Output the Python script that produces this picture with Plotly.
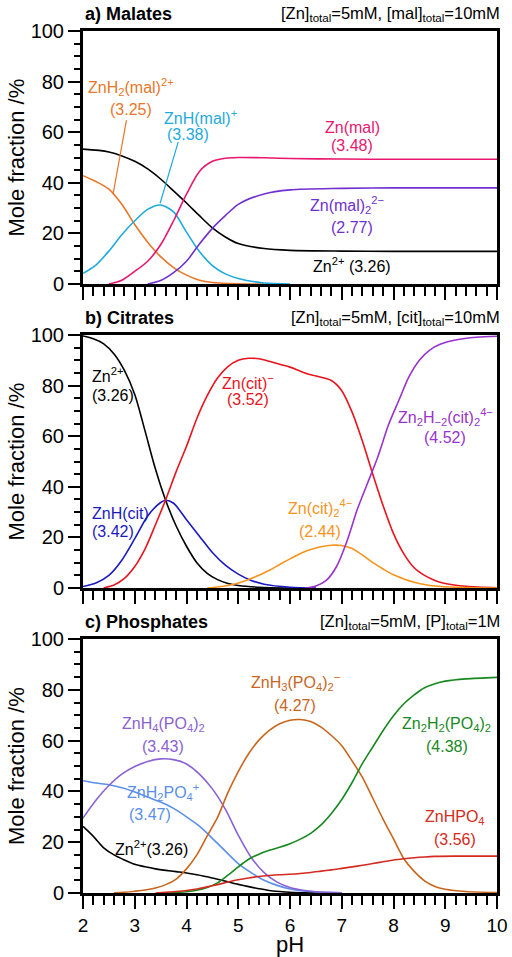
import plotly.graph_objects as go

# ---------------- Panel a) Malates ----------------
a_zn_ph = [2, 2.5, 3, 3.25, 3.5, 3.75, 4, 4.25, 4.5, 4.75, 5, 5.5, 6, 7, 8, 9, 10]
a_zn = [53.3, 52.2, 48.5, 45.5, 41.5, 36.8, 32, 27, 22.2, 18.6, 16, 14, 13.3, 13, 12.9, 12.9, 12.9]
a_znh2_ph = [2, 2.25, 2.5, 2.75, 3, 3.25, 3.5, 3.75, 4, 4.25, 4.5, 5, 5.5]
a_znh2 = [42.8, 40.5, 37.5, 31.5, 23.5, 16.5, 10.8, 6.5, 3.5, 1.5, 0.6, 0.1, 0]
a_znh_ph = [2, 2.25, 2.5, 2.75, 3, 3.25, 3.5, 3.75, 4, 4.25, 4.5, 4.75, 5, 5.5, 6]
a_znh = [4.2, 7.5, 13, 19.5, 25, 29.5, 31.2, 28.5, 20.5, 12.8, 7.3, 4, 2.2, 0.4, 0]
a_znmal_ph = [2.5, 2.75, 3, 3.25, 3.5, 3.75, 4, 4.25, 4.5, 4.75, 5, 5.5, 6, 7, 8, 10]
a_znmal = [0, 1.5, 5, 9, 15.5, 25, 35.5, 44.5, 48.5, 49.7, 50, 49.9, 49.6, 49.4, 49.3, 49.3]
a_znmal2_ph = [3.25, 3.5, 3.75, 4, 4.25, 4.5, 4.75, 5, 5.5, 6, 7, 8, 10]
a_znmal2 = [0, 1.4, 4.5, 9, 15.8, 22, 27, 31.5, 35.6, 37.2, 37.8, 38, 38]

# ---------------- Panel b) Citrates ----------------
b_zn_ph = [2, 2.2, 2.4, 2.6, 2.8, 3.0, 3.2, 3.4, 3.6, 3.8, 4.0, 4.2, 4.4, 4.6, 4.8, 5.0, 5.4, 6.0]
b_zn = [99.6, 98.5, 96.5, 92.5, 86, 76.5, 62, 47, 34.5, 24.5, 16.5, 10, 5.8, 3.3, 1.8, 1.0, 0.3, 0]
b_znh_ph = [2, 2.25, 2.5, 2.75, 3, 3.25, 3.5, 3.6, 3.75, 4, 4.25, 4.5, 4.75, 5, 5.25, 5.5, 6, 6.5]
b_znh = [0.6, 2, 5, 11, 19.5, 28.5, 33.8, 34.7, 33.5, 27, 20.5, 14, 9, 5.5, 3, 1.5, 0.3, 0]
b_zncit_ph = [2.4, 2.6, 2.8, 3.0, 3.2, 3.4, 3.6, 3.8, 4.0, 4.2, 4.4, 4.6, 4.8, 5.0, 5.2, 5.4, 5.6,
              5.8, 6.0, 6.2, 6.4, 6.6, 6.8, 7.0, 7.2, 7.4, 7.6, 7.8, 8.0, 8.2, 8.4, 8.6, 8.8, 9.0, 9.4, 10]
b_zncit = [0, 1.2, 3.8, 8.5, 15.5, 25, 35, 46, 56, 67, 76, 83, 87.5, 90, 90.8, 90.6, 89.6,
           88.4, 87.3, 85.7, 84.3, 83.3, 82, 78, 69.5, 58, 45, 32.5, 21.5, 13.5, 8, 5, 3, 1.8, 0.7, 0.1]
b_zncit2_ph = [4.4, 4.6, 4.8, 5.0, 5.2, 5.4, 5.6, 5.8, 6.0, 6.2, 6.4, 6.6, 6.8, 7.0, 7.2, 7.4,
               7.6, 7.8, 8.0, 8.2, 8.4, 8.6, 8.8, 9.2, 10]
b_zncit2 = [0, 0.4, 1, 2, 3.4, 5, 7, 9.3, 11.5, 13.6, 15.2, 16.3, 16.9, 16.8, 15.6, 13,
            10, 7.5, 5.2, 3.6, 2.3, 1.4, 0.8, 0.3, 0]
b_zn2_ph = [6.3, 6.5, 6.7, 6.9, 7.1, 7.3, 7.5, 7.7, 7.9, 8.1, 8.3, 8.5, 8.7, 8.9, 9.2, 9.6, 10]
b_zn2 = [0, 0.8, 3, 8.5, 18.5, 31, 41.5, 52, 64.3, 74, 83.5, 90, 94, 96.3, 98, 99.1, 99.5]

# ---------------- Panel c) Phosphates ----------------
c_zn_ph = [2, 2.2, 2.4, 2.6, 2.8, 3.0, 3.2, 3.4, 3.6, 3.8, 4.0, 4.2, 4.4, 4.6, 4.8, 5.0, 5.2,
           5.4, 5.6, 5.8, 6.0, 6.4, 7]
c_zn = [26.2, 22.3, 17.8, 15, 13, 11.3, 10.3, 9.5, 8.9, 8.4, 7.9, 7.2, 6.4, 5.4, 4.4, 3.4, 2.5,
        1.7, 1.0, 0.6, 0.3, 0.1, 0]
c_znh2po4_ph = [2, 2.25, 2.5, 2.75, 3.0, 3.25, 3.5, 3.75, 4.0, 4.25, 4.5, 4.75, 5.0, 5.25, 5.5,
                5.75, 6.0, 6.25, 6.5, 7]
c_znh2po4 = [44.2, 43.3, 42.6, 41.4, 39.8, 37.8, 35.8, 33.3, 30, 26.3, 21.5, 16.5, 11.6, 8, 5,
             3, 1.6, 0.8, 0.4, 0.1]
c_znh4_ph = [2, 2.25, 2.5, 2.75, 3.0, 3.25, 3.5, 3.75, 4.0, 4.25, 4.5, 4.75, 5.0, 5.25, 5.5,
             5.75, 6.0, 6.25, 6.5, 7]
c_znh4 = [29.5, 36.5, 42.3, 46.8, 49.8, 51.8, 52.8, 52.5, 50.8, 46.8, 41, 33, 22.8, 14, 8,
          4.3, 2.2, 1.1, 0.5, 0.1]
c_znh3_ph = [2.6, 2.8, 3.0, 3.2, 3.4, 3.6, 3.8, 4.0, 4.2, 4.4, 4.6, 4.8, 5.0, 5.2, 5.4, 5.6, 5.8,
             6.0, 6.2, 6.4, 6.6, 6.8, 7.0, 7.2, 7.4, 7.6, 7.8, 8.0, 8.2, 8.4, 8.6, 8.8, 9.0, 9.4, 10]
c_znh3 = [0.1, 0.3, 0.7, 1.2, 2, 3.3, 5.5, 9.5, 15, 22.5, 29.8, 39.5, 47.8, 54.8, 60.2, 64, 66.6,
          68, 68.3, 67.5, 65.3, 62, 58, 52, 45.5, 37.3, 29, 21.3, 13.5, 8.5, 4.8, 2.6, 1.5, 0.6, 0.2]
c_zn2h2_ph = [3.6, 3.8, 4.0, 4.2, 4.4, 4.6, 4.8, 5.0, 5.2, 5.4, 5.6, 5.8, 6.0, 6.2, 6.4, 6.6, 6.8,
              7.0, 7.2, 7.4, 7.6, 7.8, 8.0, 8.2, 8.4, 8.6, 8.8, 9.0, 9.4, 10]
c_zn2h2 = [0, 0.2, 0.5, 1.1, 2.2, 4, 7, 10.3, 13.3, 15.3, 16.8, 18, 19.4, 21.2, 23.5, 26.8, 31.3,
           36.8, 43.5, 51, 57.5, 64, 69.8, 74.5, 78, 80.8, 82.4, 83.4, 84.3, 84.9]
c_znhpo4_ph = [3.4, 3.6, 3.8, 4.0, 4.2, 4.4, 4.6, 4.8, 5.0, 5.2, 5.4, 5.6, 5.8, 6.0, 6.2, 6.4, 6.6,
               6.8, 7.0, 7.2, 7.4, 7.6, 7.8, 8.0, 8.2, 8.4, 8.6, 8.8, 9.2, 10]
c_znhpo4 = [0, 0.3, 0.6, 1, 1.6, 2.4, 3.3, 4.3, 5.2, 5.9, 6.5, 6.9, 7.2, 7.4, 7.7, 8.1, 8.6,
            9.1, 9.7, 10.3, 10.9, 11.6, 12.3, 13, 13.5, 13.9, 14.2, 14.4, 14.5, 14.5]

x_ticks = [2, 3, 4, 5, 6, 7, 8, 9, 10]
y_ticks = [0, 20, 40, 60, 80, 100]

FONT = "Liberation Sans, Arial, sans-serif"

series = [
    (1, a_zn_ph, a_zn, "#000000"),
    (1, a_znh2_ph, a_znh2, "#E8772A"),
    (1, a_znh_ph, a_znh, "#1FAADD"),
    (1, a_znmal_ph, a_znmal, "#E8186E"),
    (1, a_znmal2_ph, a_znmal2, "#7030D0"),
    (2, b_zn_ph, b_zn, "#000000"),
    (2, b_znh_ph, b_znh, "#1A1AC0"),
    (2, b_zncit_ph, b_zncit, "#E8141E"),
    (2, b_zncit2_ph, b_zncit2, "#F7941D"),
    (2, b_zn2_ph, b_zn2, "#9933CC"),
    (3, c_zn_ph, c_zn, "#000000"),
    (3, c_znh2po4_ph, c_znh2po4, "#5B8FE8"),
    (3, c_znh4_ph, c_znh4, "#8A62D2"),
    (3, c_znh3_ph, c_znh3, "#C8661E"),
    (3, c_zn2h2_ph, c_zn2h2, "#17891E"),
    (3, c_znhpo4_ph, c_znhpo4, "#D42A20"),
]

fig = go.Figure()
for p, xs, ys, col in series:
    suf = "" if p == 1 else str(p)
    fig.add_trace(go.Scatter(x=xs, y=ys, mode="lines",
                             line=dict(color=col, width=1.6, shape="spline", smoothing=0.8),
                             xaxis="x" + suf, yaxis="y" + suf, showlegend=False, hoverinfo="skip"))

H = 957
top_px, bot_px = 31, 893
left_px, right_px = 83, 497
span = bot_px - top_px
wspan = right_px - left_px


def pdom(y0px, y1px):
    return [(bot_px - y1px) / span, (bot_px - y0px) / span]


def py(ypx):
    return (bot_px - ypx) / span


def px(xpx):
    return (xpx - left_px) / wspan


domains = [pdom(31, 284), pdom(335, 588), pdom(639, 893)]

layout = dict(
    width=512, height=H,
    margin=dict(l=left_px, r=512 - right_px, t=top_px, b=H - bot_px, autoexpand=False),
    plot_bgcolor="white", paper_bgcolor="white",
    font=dict(family=FONT, color="black"),
)
for i in range(3):
    suf = "" if i == 0 else str(i + 1)
    layout["xaxis" + suf] = dict(
        domain=[0, 1], anchor="y" + suf, range=[2, 10], tickvals=x_ticks,
        showticklabels=(i == 2), ticks="outside", ticklen=13, tickwidth=2, tickcolor="black",
        minor=dict(dtick=0.2, ticks="outside", ticklen=9, tickwidth=1.5, tickcolor="black"),
        showline=True, linewidth=3, linecolor="black", mirror=True, showgrid=False, zeroline=False,
        tickfont=dict(size=19, family=FONT), automargin=False, ticklabelstandoff=0,
    )
    layout["yaxis" + suf] = dict(
        domain=domains[i], anchor="x" + suf, range=[0, 100], tickvals=y_ticks,
        ticks="outside", ticklen=12, tickwidth=2, tickcolor="black",
        minor=dict(dtick=5, ticks="outside", ticklen=6, tickwidth=1.5, tickcolor="black"),
        showline=True, linewidth=3, linecolor="black", mirror=True, showgrid=False, zeroline=False,
        tickfont=dict(size=20, family=FONT), automargin=False,
    )
fig.update_layout(**layout)

ann = []


def lab(panel, x, y, text, color, xanchor="center", size=16):
    suf = "" if panel == 1 else str(panel)
    ann.append(dict(x=x, y=y, xref="x" + suf, yref="y" + suf, text=text, showarrow=False,
                    xanchor=xanchor, yanchor="middle", font=dict(size=size, color=color, family=FONT)))


# panel a labels
lab(1, 2.93, 77.9, "ZnH<sub>2</sub>(mal)<sup>2+</sup>", "#E8772A")
lab(1, 2.93, 68.8, "(3.25)", "#E8772A")
lab(1, 4.28, 66.0, "ZnH(mal)<sup>+</sup>", "#1FAADD")
lab(1, 4.03, 58.9, "(3.38)", "#1FAADD")
lab(1, 7.2, 62.0, "Zn(mal)", "#E8186E")
lab(1, 7.2, 54.9, "(3.48)", "#E8186E")
lab(1, 7.1, 31.2, "Zn(mal)<sub>2</sub><sup>2−</sup>", "#7030D0")
lab(1, 7.2, 22.5, "(2.77)", "#7030D0")
lab(1, 7.2, 7.5, "Zn<sup>2+</sup> (3.26)", "#000000")
# panel b labels
lab(2, 2.135, 84.0, "Zn<sup>2+</sup>", "#000000", "left")
lab(2, 2.135, 76.1, "(3.26)", "#000000", "left")
lab(2, 5.19, 81.6, "Zn(cit)<sup>−</sup>", "#E8141E")
lab(2, 5.19, 74.5, "(3.52)", "#E8141E")
lab(2, 9.0, 67.4, "Zn<sub>2</sub>H<sub>−2</sub>(cit)<sub>2</sub><sup>4−</sup>", "#9933CC")
lab(2, 9.0, 59.6, "(4.52)", "#9933CC")
lab(2, 2.135, 29.6, "ZnH(cit)", "#1A1AC0", "left")
lab(2, 2.135, 22.2, "(3.42)", "#1A1AC0", "left")
lab(2, 6.58, 31.6, "Zn(cit)<sub>2</sub><sup>4−</sup>", "#F7941D")
lab(2, 6.58, 22.2, "(2.44)", "#F7941D")
# panel c labels
lab(3, 6.1, 83.1, "ZnH<sub>3</sub>(PO<sub>4</sub>)<sub>2</sub><sup>−</sup>", "#C8661E")
lab(3, 6.1, 74.0, "(4.27)", "#C8661E")
lab(3, 3.55, 66.2, "ZnH<sub>4</sub>(PO<sub>4</sub>)<sub>2</sub>", "#8A62D2")
lab(3, 3.55, 57.5, "(3.43)", "#8A62D2")
lab(3, 3.55, 39.8, "ZnH<sub>2</sub>PO<sub>4</sub><sup>+</sup>", "#5B8FE8")
lab(3, 3.29, 30.8, "(3.47)", "#5B8FE8")
lab(3, 2.58, 17.8, "Zn<sup>2+</sup>(3.26)", "#000000", "left")
lab(3, 9.03, 66.2, "Zn<sub>2</sub>H<sub>2</sub>(PO<sub>4</sub>)<sub>2</sub>", "#17891E")
lab(3, 9.03, 57.5, "(4.38)", "#17891E")
lab(3, 9.19, 29.6, "ZnHPO<sub>4</sub>", "#D42A20")
lab(3, 9.19, 21.0, "(3.56)", "#D42A20")

titles = [("<b>a) Malates</b>", "[Zn]<sub>total</sub>=5mM, [mal]<sub>total</sub>=10mM", 14),
          ("<b>b) Citrates</b>", "[Zn]<sub>total</sub>=5mM, [cit]<sub>total</sub>=10mM", 318),
          ("<b>c) Phosphates</b>", "[Zn]<sub>total</sub>=5mM, [P]<sub>total</sub>=1M", 622)]
for left, right, ypx in titles:
    ann.append(dict(x=0, y=py(ypx), xref="paper", yref="paper", text=left, showarrow=False,
                    xanchor="left", yanchor="middle", font=dict(size=18, family=FONT, color="black")))
    ann.append(dict(x=px(502), y=py(ypx), xref="paper", yref="paper", text=right, showarrow=False,
                    xanchor="right", yanchor="middle", font=dict(size=16.5, family=FONT, color="black")))

# y-axis titles (one per panel) and x-axis title
for d in domains:
    ann.append(dict(x=px(16), y=(d[0] + d[1]) / 2, xref="paper", yref="paper",
                    text="Mole fraction /%", textangle=-90, showarrow=False,
                    xanchor="center", yanchor="middle", font=dict(size=22, family=FONT, color="black")))
ann.append(dict(x=0.5, y=py(944), xref="paper", yref="paper", text="pH", showarrow=False,
                xanchor="center", yanchor="middle", font=dict(size=22, family=FONT, color="black")))

fig.update_layout(annotations=ann)

# leader lines in panel a
fig.add_shape(type="line", xref="x", yref="y", x0=2.84, y0=64.8, x1=2.58, y1=35.4,
              line=dict(color="#E8772A", width=1.2))
fig.add_shape(type="line", xref="x", yref="y", x0=3.84, y0=56.2, x1=3.49, y1=31.9,
              line=dict(color="#1FAADD", width=1.2))

fig.write_html("out.html", config={"displayModeBar": False},
               post_script="document.body.style.margin='0';document.body.style.overflow='hidden';")
